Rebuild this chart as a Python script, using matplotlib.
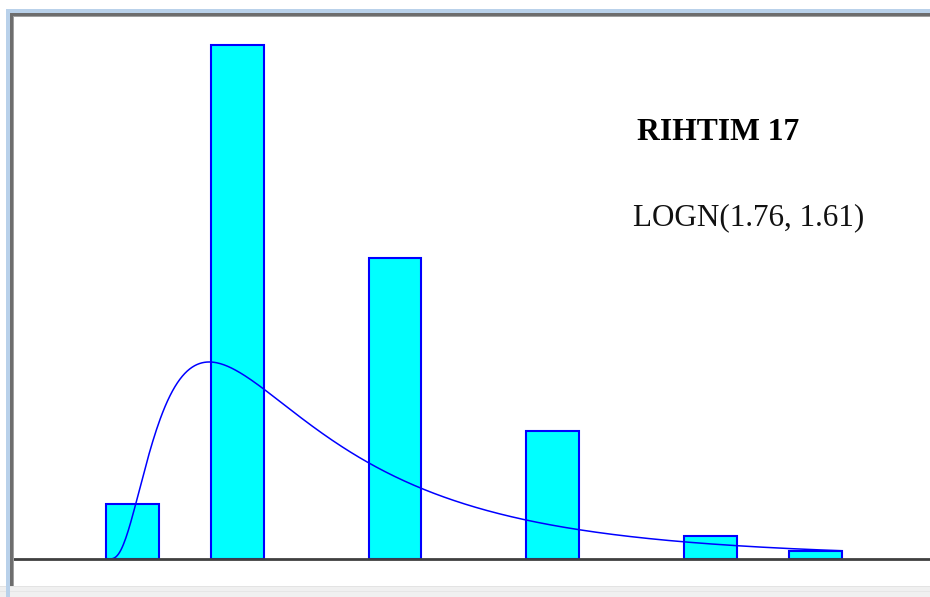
import numpy as np
import matplotlib
matplotlib.use("Agg")
import matplotlib.pyplot as plt
from matplotlib.patches import Rectangle

# ---- data ----
title = "RIHTIM 17"
dist_label = "LOGN(1.76, 1.61)"
logn_mean = 1.76
logn_sd = 1.61
n_bins = 14
bin_width = 0.36
bin_index = [0, 2, 5, 8, 11, 13]          # non-empty histogram bins
rel_freq = [0.054, 0.501, 0.294, 0.125, 0.0225, 0.008]

W, H = 930, 597
fig = plt.figure(figsize=(W / 100, H / 100), dpi=100)
fig.patch.set_facecolor("white")

# axes covering whole figure, mapped so value 0 sits at px 106, 146 px/unit
px0, spx = 106.0, 146.0
base_px, spy = 559.0, 1025.0
ax = fig.add_axes([0, 0, 1, 1])
ax.set_xlim((0 - px0) / spx, (W - px0) / spx)
ax.set_ylim(-(H - base_px) / spy, base_px / spy)
ax.axis("off")

# bars
lefts = [i * bin_width for i in bin_index]
ax.bar(lefts, rel_freq, width=bin_width, align="edge", color="#00ffff",
       edgecolor="#0000ff", linewidth=1.5, zorder=2)

# fitted lognormal curve (scaled to bin width)
sigma2 = np.log(1 + (logn_sd / logn_mean) ** 2)
mu = np.log(logn_mean) - sigma2 / 2
sigma = np.sqrt(sigma2)
xs = np.linspace(0.001, n_bins * bin_width, 600)
pdf = np.exp(-(np.log(xs) - mu) ** 2 / (2 * sigma2)) / (xs * sigma * np.sqrt(2 * np.pi))
ax.plot(xs, pdf * bin_width, color="#0000ff", linewidth=1.1, zorder=3)

# baseline
x_start = (13 - px0) / spx
ax.plot([x_start, ax.get_xlim()[1]], [0, 0], color="#404040", linewidth=2.0,
        zorder=4, solid_capstyle="butt")

# texts
def fx(px):
    return px / W

def fy(py):
    return 1 - py / H

fig.text(fx(637), fy(132), title, fontsize=22.8, fontweight="bold",
         family="Liberation Serif", ha="left", va="center", color="black")
fig.text(fx(633), fy(218), dist_label, fontsize=22.4,
         family="Liberation Serif", ha="left", va="center", color="#111111")

# window frame decorations
def rect(x, y, w, h, color):
    fig.add_artist(Rectangle((fx(x), fy(y + h)), w / W, h / H,
                             transform=fig.transFigure, facecolor=color,
                             edgecolor="none", zorder=10))

rect(0, 586, W, 11, "#f0f0f0")
rect(0, 586, W, 1, "#e3e3e3")
rect(0, 591, W, 1, "#e6e6e6")
rect(6, 9, W - 6, 4, "#b9d1ea")
rect(6, 9, 4, H - 9, "#b9d1ea")
rect(10, 13, W - 10, 3, "#6d6d6d")
rect(10, 13, 3, 573, "#6d6d6d")
rect(13, 16, W - 13, 1, "#a0a0a0")
rect(13, 16, 1, 570, "#a0a0a0")

fig.savefig("out.png", dpi=100, facecolor="white")
